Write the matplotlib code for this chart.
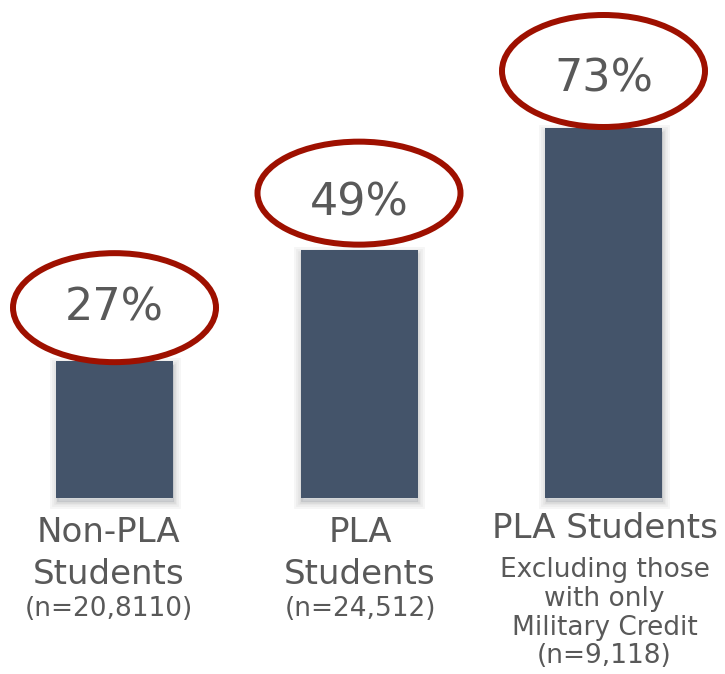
import matplotlib
matplotlib.use("Agg")
import matplotlib.pyplot as plt
from matplotlib.patches import Ellipse
import matplotlib.patheffects as pe

# ---- data ----
values = [27, 49, 73]
pct_labels = ["27%", "49%", "73%"]
main_labels = [["Non-PLA", "Students"], ["PLA", "Students"], ["PLA Students"]]
sub_labels = [[], [], ["Excluding those", "with only", "Military Credit"]]
n_labels = ["(n=20,8110)", "(n=24,512)", "(n=9,118)"]

# ---- style ----
BAR_COLOR = "#44546A"
RING_COLOR = "#9E1000"
TEXT_COLOR = "#595959"
FONT = dict(family="DejaVu Sans")

W, H, DPI = 725, 674, 100
fig = plt.figure(figsize=(W / DPI, H / DPI), dpi=DPI)
base_px = 498            # bar baseline, pixels from top
px_per_unit = 370 / 73   # vertical scale
x0_px, step_px = 114.5, 244.5
ax = fig.add_axes([0, (H - base_px) / H, 1, base_px / H])
ax.set_xlim(-x0_px / step_px, (W - x0_px) / step_px)
ax.set_ylim(0, base_px / px_per_unit)
ax.axis("off")

xs = list(range(len(values)))
bars = ax.bar(xs, values, width=117 / step_px, color=BAR_COLOR, zorder=2)
shadow = [pe.Stroke(offset=(0.5, -3), linewidth=w, foreground="black", alpha=0.035)
          for w in (10, 7, 4, 2)]
for b in bars:
    b.set_clip_on(False)
    b.set_path_effects(shadow + [pe.Normal()])

# ring geometry (pixels)
ring_w = [203, 203, 203]
ring_h = [109, 103, 112]
ring_up = [53.5, 56.5, 57]     # ring centre above bar top
text_up = [41, 34, 36]         # percent baseline above bar top
LW_PT = 6 * 72 / DPI

for x, v, lab, rw, rh, ru, tu in zip(xs, values, pct_labels, ring_w, ring_h, ring_up, text_up):
    cy = v + ru / px_per_unit
    ax.add_patch(Ellipse((x, cy), rw / step_px, rh / px_per_unit,
                         facecolor="white", edgecolor=RING_COLOR, lw=LW_PT,
                         zorder=3, clip_on=False))
    ax.annotate(lab, xy=(x, v), xytext=(0, tu), textcoords="offset pixels",
                ha="center", va="baseline", fontsize=32, color=TEXT_COLOR,
                zorder=4, annotation_clip=False, **FONT)

label_dx = [-6, 1, 1]   # horizontal nudge of the category labels (pixels)

def put(x, dx, baseline_px, s, size):
    ax.annotate(s, xy=(x, 0), xytext=(dx, -(baseline_px - base_px)),
                textcoords="offset pixels", ha="center", va="baseline",
                fontsize=size, color=TEXT_COLOR, annotation_clip=False, **FONT)

MAIN, SMALL = 24.5, 19
for x, dx, mains, subs, nl in zip(xs, label_dx, main_labels, sub_labels, n_labels):
    if len(mains) == 2:
        put(x, dx, 542.5, mains[0], MAIN)
        put(x, dx, 583.5, mains[1], MAIN)
        put(x, dx, 616, nl, SMALL)
    else:
        put(x, dx, 538, mains[0], MAIN)
        put(x, dx, 577, subs[0], SMALL)
        put(x, dx, 606, subs[1], SMALL)
        put(x, dx, 635, subs[2], SMALL)
        put(x, dx, 663, nl, SMALL)

fig.savefig("out.png", dpi=DPI, facecolor="white")
